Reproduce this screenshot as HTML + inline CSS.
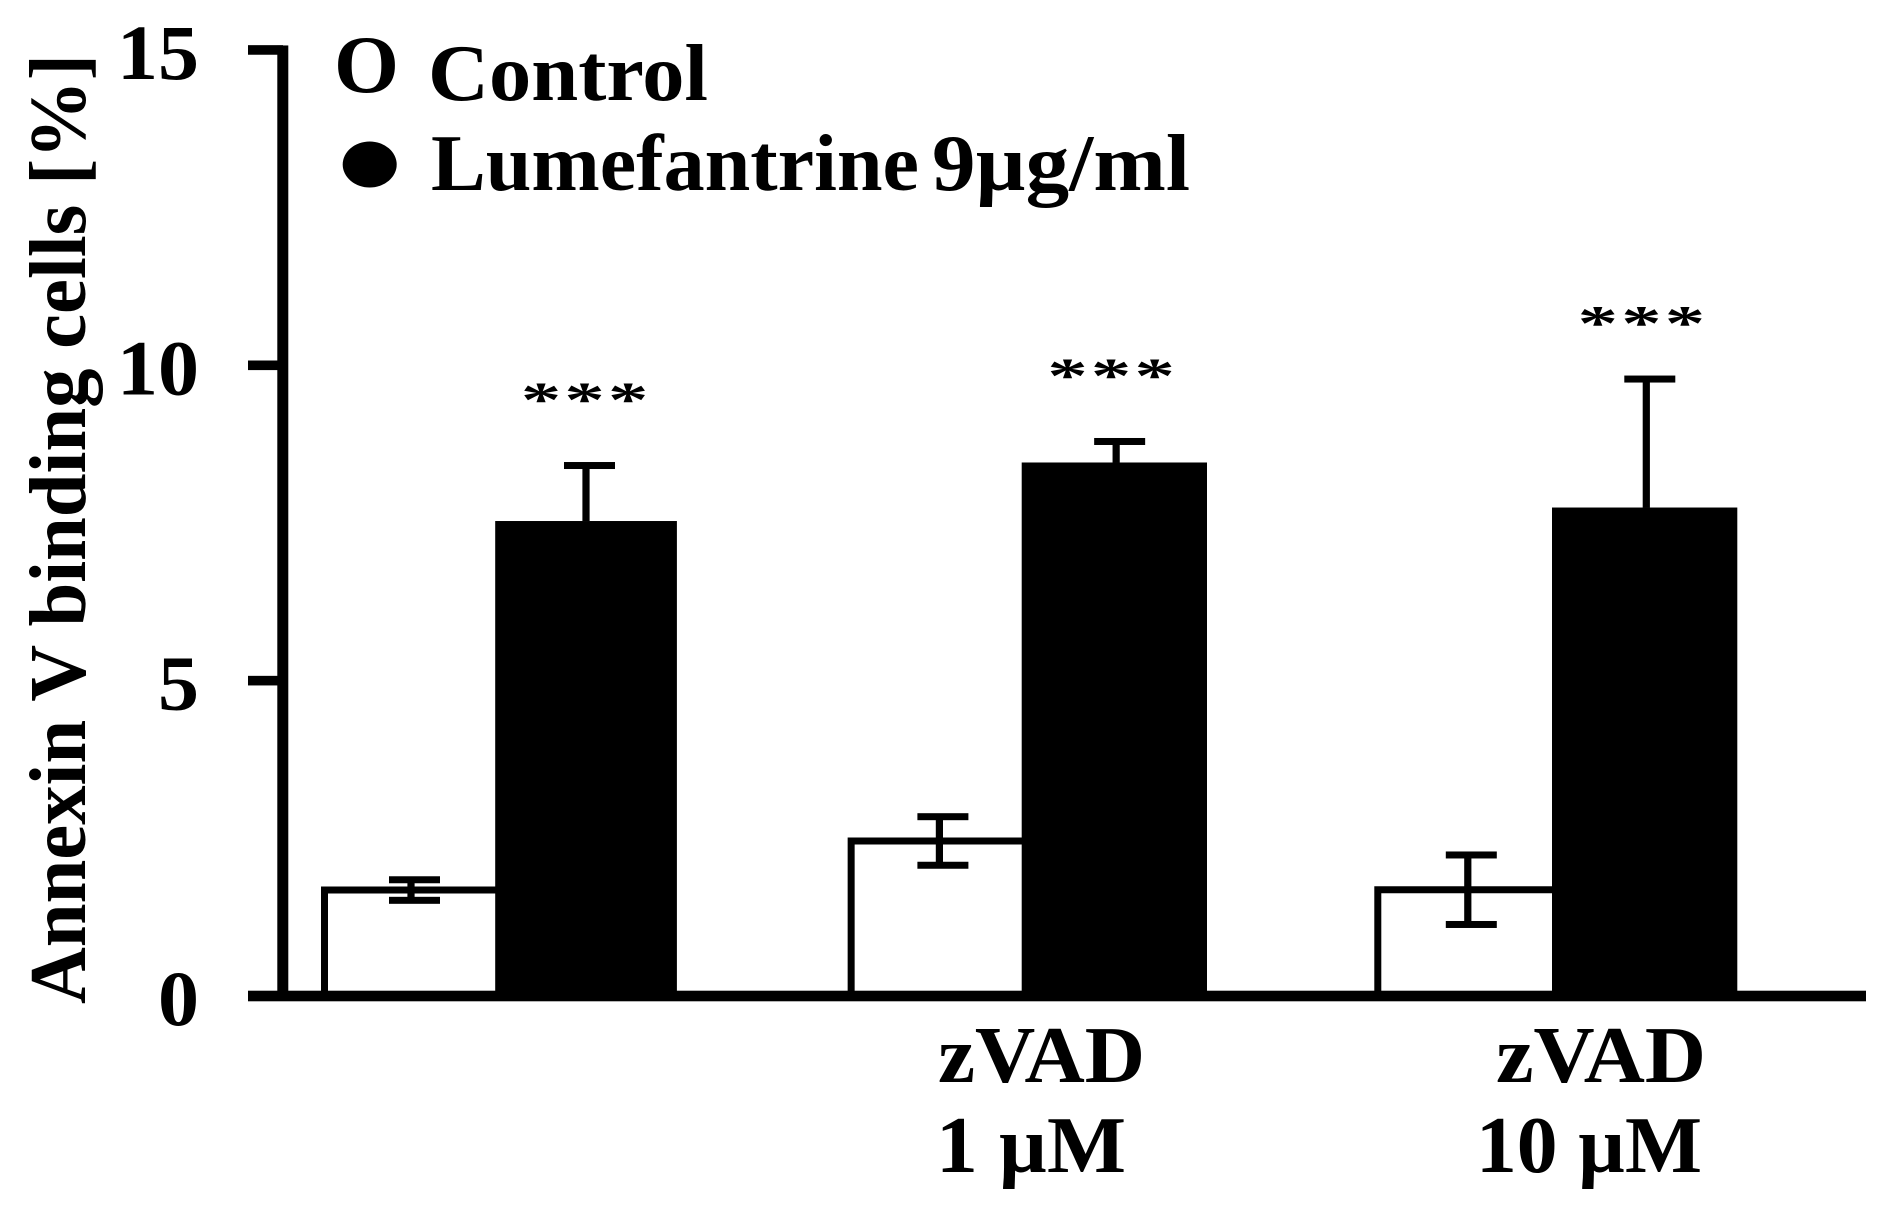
<!DOCTYPE html>
<html lang="en">
<head>
<meta charset="utf-8">
<title>Annexin V binding cells</title>
<style>
  html, body { margin: 0; padding: 0; background: #fff; }
  body { width: 1884px; height: 1208px; overflow: hidden; }
  svg { display: block; }
  text { font-family: "Liberation Serif", serif; font-weight: bold; fill: #000; }
</style>
</head>
<body>
<svg id="chart" xmlns="http://www.w3.org/2000/svg" width="1884" height="1208" viewBox="0 0 1884 1208">
  <rect x="0" y="0" width="1884" height="1208" fill="#fff"/>
  <text transform="translate(85,1004) rotate(-90)" font-size="80" textLength="950" lengthAdjust="spacingAndGlyphs">Annexin V binding cells [%]</text>
  <g>
    <text x="334" y="92" font-size="82" textLength="65" lengthAdjust="spacingAndGlyphs">O</text>
    <text x="428" y="100" font-size="80" textLength="280" lengthAdjust="spacingAndGlyphs">Control</text>
    <ellipse cx="369.7" cy="164.5" rx="27" ry="23" fill="#000"/>
    <text x="431" y="190" font-size="80" textLength="488" lengthAdjust="spacingAndGlyphs">Lumefantrine</text>
    <text x="932" y="190" font-size="80" textLength="258" lengthAdjust="spacingAndGlyphs">9µg/ml</text>
  </g>
  <g>
    <text x="938" y="1082" font-size="80" textLength="207" lengthAdjust="spacingAndGlyphs">zVAD</text>
    <text x="936" y="1172" font-size="80" textLength="190" lengthAdjust="spacingAndGlyphs">1 µM</text>
    <text x="1496" y="1082" font-size="80" textLength="210" lengthAdjust="spacingAndGlyphs">zVAD</text>
    <text x="1476" y="1172" font-size="80" textLength="226" lengthAdjust="spacingAndGlyphs">10 µM</text>
  </g>
  <g id="marks"></g>
  <g id="axes"></g>
</svg>
<script>
const tickValues = [0, 5, 10, 15];
const tickLabels = ["0", "5", "10", "15"];
const groups = ["none", "zvad-1", "zvad-10"];
const controlValues = [1.68, 2.458, 1.685];
const controlErrors = [0.163, 0.385, 0.551];
const lumefantrineValues = [7.531, 8.459, 7.745];
const lumefantrineErrors = [0.88, 0.333, 2.037];
const starLevels = [9.2, 9.58, 10.41];
const starLabels = ["***", "***", "***"];

const NS = "http://www.w3.org/2000/svg";
const marks = document.getElementById("marks");
const axes = document.getElementById("axes");

function yScale(v) { return 996 - v * 63.07; }
function controlLeft(i) { return 321 + i * 526.65; }
function controlStem(i) { return 411 + i * 528.4; }
function blackLeft(i) { return 495.2 + i * 528.4 - (i === 1 ? 1.9 : 0); }
function blackWidth(i) { return i === 0 ? 181.7 : 185.3; }
function blackStem(i) { return 586 + i * 530.15; }

function makeEl(tag, parent, attrs) {
  const el = document.createElementNS(NS, tag);
  for (const k in attrs) el.setAttribute(k, attrs[k]);
  parent.appendChild(el);
  return el;
}

function errorBar(parent, cx, value, err, both, label) {
  const top = yScale(value + err);
  const bottom = both ? yScale(value - err) : yScale(value);
  const stem = makeEl("rect", parent, { x: cx - 3.6, y: top, width: 7.2, height: bottom - top, fill: "#000" });
  
  
  const capTop = makeEl("rect", parent, { x: cx - 22, y: top - 3.5, width: 51, height: 7, fill: "#000" });
  
  
  if (both) {
    const capBottom = makeEl("rect", parent, { x: cx - 22, y: bottom - 3.5, width: 51, height: 7, fill: "#000" });
    
    
  }
}

groups.forEach(function (group, i) {
  const left = controlLeft(i);
  const controlTop = yScale(controlValues[i]);
  const controlBar = makeEl("path", marks, {
    d: "M" + (left + 3.5) + " 996 V" + controlTop + " H" + (blackLeft(i) + 1),
    fill: "none", stroke: "#000", "stroke-width": 7, "stroke-linejoin": "miter"
  });
  
  
  errorBar(marks, controlStem(i), controlValues[i], controlErrors[i], true, "control-" + group);

  const blackTop = yScale(lumefantrineValues[i]);
  const blackBar = makeEl("rect", marks, {
    x: blackLeft(i), y: blackTop, width: blackWidth(i), height: 996 - blackTop, fill: "#000"
  });
  
  
  errorBar(marks, blackStem(i), lumefantrineValues[i], lumefantrineErrors[i], false, "lumefantrine-" + group);

  const stars = makeEl("text", marks, {
    transform: "translate(" + (blackLeft(i) + 91) + "," + yScale(starLevels[i]) + ") scale(1.3,0.8)",
    x: 0, y: 0, "font-size": 62, "text-anchor": "middle", "letter-spacing": 2.5
  });
  
  
  stars.textContent = starLabels[i];
});

const yAxisLine = makeEl("rect", axes, { x: 277.3, y: yScale(15) - 4.5, width: 11, height: yScale(0) - yScale(15) + 9, fill: "#000" });



const xAxisLine = makeEl("rect", axes, { x: 248, y: yScale(0) - 5.3, width: 1618, height: 10.6, fill: "#000" });



tickValues.forEach(function (v, i) {
  const tick = makeEl("rect", axes, { x: 248, y: yScale(v) - 4.8, width: 35, height: 9.6, fill: "#000" });
  
  
  const label = makeEl("text", axes, {
    x: 199, y: yScale(v) + 29, "font-size": 78, "text-anchor": "end",
    textLength: tickLabels[i].length * 41, lengthAdjust: "spacingAndGlyphs"
  });
  
  
  label.textContent = tickLabels[i];
});
</script>
</body>
</html>
